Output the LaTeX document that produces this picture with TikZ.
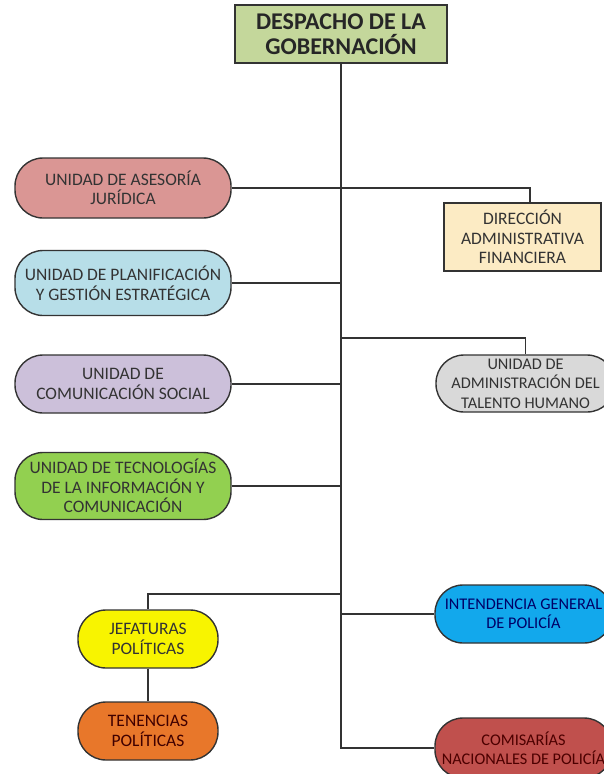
\documentclass[tikz,border=0pt]{standalone}
\usepackage{fontspec}
\setmainfont{Carlito}
\usetikzlibrary{calc}
\definecolor{linec}{HTML}{333333}
\definecolor{txt}{HTML}{333333}
\definecolor{cgob}{HTML}{C4D79B}
\definecolor{cjur}{HTML}{DA9694}
\definecolor{cdir}{HTML}{FCEBC4}
\definecolor{cplan}{HTML}{B7DEE8}
\definecolor{ctal}{HTML}{D9D9D9}
\definecolor{csoc}{HTML}{CCC0DA}
\definecolor{ctec}{HTML}{92D050}
\definecolor{cjef}{HTML}{F8F400}
\definecolor{cten}{HTML}{E8772A}
\definecolor{cint}{HTML}{12A8EC}
\definecolor{ccom}{HTML}{C0504D}
\tikzset{
  x=1pt, y=-1pt,
  boxbase/.style={draw=linec, line width=1.4pt, inner sep=0pt, align=center,
    text=txt, font=\fontsize{17.5}{19.5}\selectfont},
  edgefont/.style={font=\fontsize{16.3}{19.5}\selectfont},
  sqbox/.style={boxbase, rectangle},
  pill/.style={boxbase, rectangle, rounded corners=28pt},
  conn/.style={draw=linec, line width=1.8pt}
}
\begin{document}
\begin{tikzpicture}
\useasboundingbox (0,0) rectangle (604,774);
% nodes
\node[sqbox, fill=cgob, minimum width=212pt, minimum height=58pt,
  font=\fontsize{24}{25}\selectfont\bfseries, text=black!85] (gob) at (341,34)
  {DESPACHO DE LA\\GOBERNACIÓN};
\node[pill, fill=cjur, minimum width=216pt, minimum height=60pt] (jur) at (123,188)
  {UNIDAD DE ASESORÍA\\JURÍDICA};
\node[sqbox, fill=cdir, minimum width=157pt, minimum height=68pt] (dir) at (522.5,237)
  {DIRECCIÓN\\ADMINISTRATIVA\\FINANCIERA};
\node[pill, fill=cplan, minimum width=216pt, minimum height=65pt] (plan) at (123,283)
  {UNIDAD DE PLANIFICACIÓN\\Y GESTIÓN ESTRATÉGICA};
\node[pill, fill=ctal, minimum width=179pt, minimum height=57pt, edgefont] (tal) at (525.5,383.5)
  {UNIDAD DE\\ADMINISTRACIÓN DEL\\TALENTO HUMANO};
\node[pill, fill=csoc, minimum width=216pt, minimum height=58pt] (soc) at (123,384)
  {UNIDAD DE\\COMUNICACIÓN SOCIAL};
\node[pill, fill=ctec, minimum width=216pt, minimum height=67pt, text=black!80] (tec) at (123,486)
  {UNIDAD DE TECNOLOGÍAS\\DE LA INFORMACIÓN Y\\COMUNICACIÓN};
\node[pill, fill=cjef, minimum width=140pt, minimum height=58pt] (jef) at (148,639)
  {JEFATURAS\\POLÍTICAS};
\node[pill, fill=cten, minimum width=140pt, minimum height=58pt, text=black!75!red] (ten) at (148,731)
  {TENENCIAS\\POLÍTICAS};
\node[pill, fill=cint, minimum width=177pt, minimum height=58pt, edgefont, text=blue!40!black] (int) at (523.5,614)
  {INTENDENCIA GENERAL\\DE POLICÍA};
\node[pill, fill=ccom, minimum width=177pt, minimum height=60pt, edgefont, text=black!70!red] (com) at (523.5,748)
  {COMISARÍAS\\NACIONALES DE POLICÍA};
% coordinates
\coordinate (bot) at (gob.south |- com.west);
\coordinate (d1) at (530,188);
\coordinate (t1) at (gob.south |- 0,338);
\coordinate (j1) at (gob.south |- 0,594);
% connectors
\draw[conn] (gob.south) -- (bot) -- (com.west);
\draw[conn] (jur.east) -- (d1) -- (d1 |- dir.north);
\draw[conn] (plan.east) -- (plan.east -| gob.south);
\draw[conn] (t1) -- (t1 -| tal.north) -- (tal.north);
\draw[conn] (soc.east) -- (soc.east -| gob.south);
\draw[conn] (tec.east) -- (tec.east -| gob.south);
\draw[conn] (j1) -- (j1 -| jef.north) -- (jef.north);
\draw[conn] (jef.south) -- (ten.north);
\draw[conn] (int.west) -- (int.west -| gob.south);
\end{tikzpicture}
\end{document}
